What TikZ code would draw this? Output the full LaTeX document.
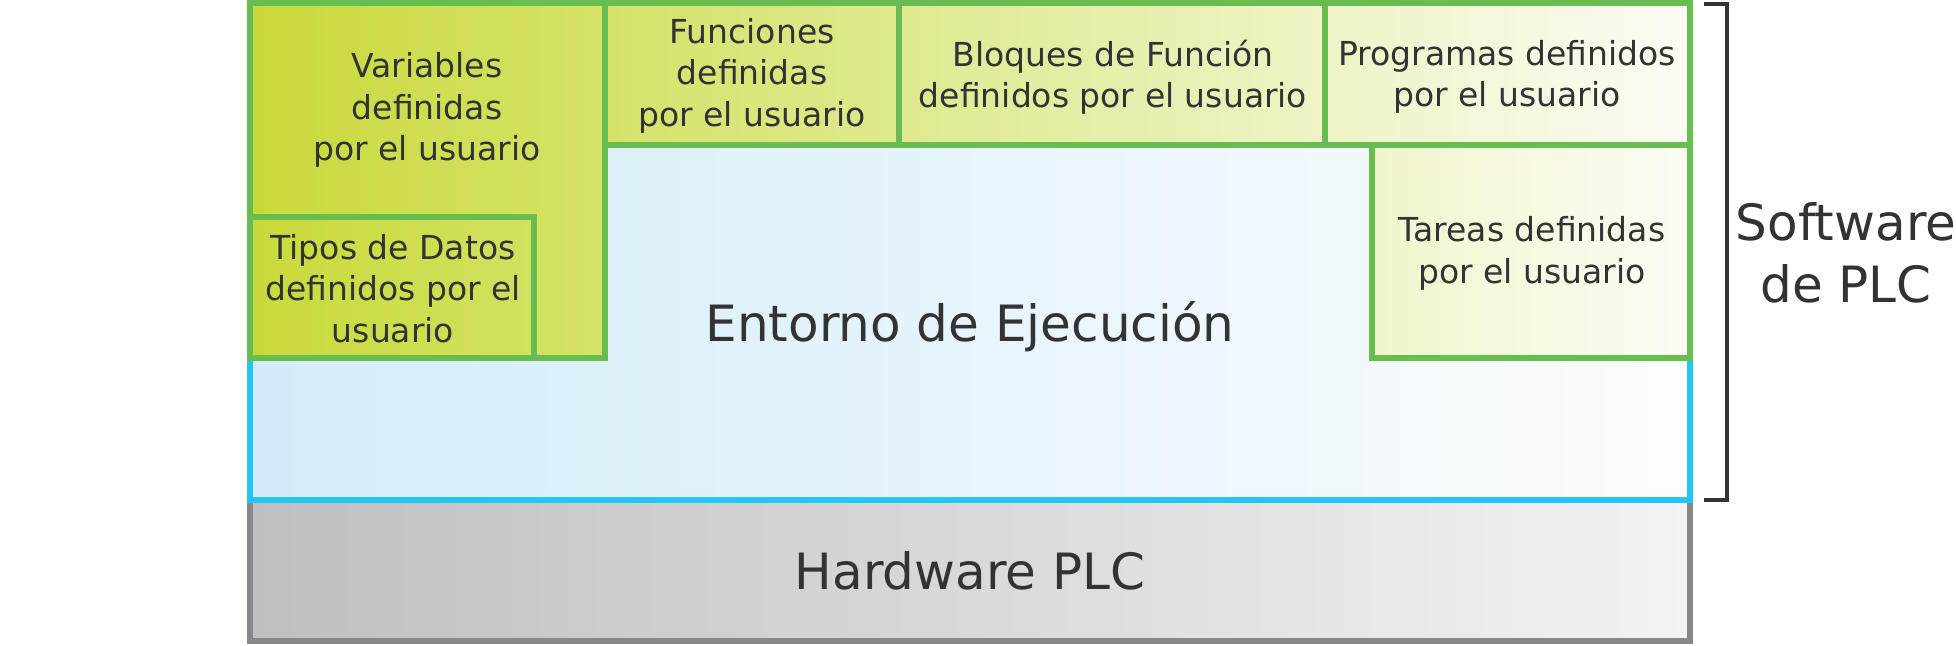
\documentclass[tikz,border=0pt]{standalone}
\usepackage{fontspec}
\setmainfont{DejaVu Sans}
\definecolor{txt}{RGB}{51,51,51}
\definecolor{gline}{RGB}{104,189,80}
\definecolor{bline}{RGB}{38,198,243}
\definecolor{hline}{RGB}{136,136,136}
\definecolor{gA}{RGB}{200,218,58}
\definecolor{gB}{RGB}{213,226,104}
\definecolor{gT}{RGB}{210,225,95}
\definecolor{gC}{RGB}{223,233,142}
\definecolor{gD}{RGB}{239,243,198}
\definecolor{gE}{RGB}{241,245,204}
\definecolor{gF}{RGB}{252,252,245}
\definecolor{bL}{RGB}{210,236,249}
\definecolor{bR}{RGB}{252,253,254}
\definecolor{hL}{RGB}{190,191,194}
\definecolor{hR}{RGB}{243,243,243}
\begin{document}
\begin{tikzpicture}[x=1pt,y=-1pt,
  box/.style={rectangle, draw, line width=5.5pt, inner sep=0pt, outer sep=0pt},
  gbox/.style={box, draw=gline},
  small/.style={font=\fontsize{33}{41.5}\selectfont, text=txt, align=center},
  big/.style={font=\fontsize{50}{62}\selectfont, text=txt, align=center}]
\useasboundingbox (0,0) rectangle (1956,645);
% hardware
\node[box, draw=hline, left color=hL, right color=hR, minimum width=1440pt, minimum height=141pt] (hw) at (970,570.5) {};
\node[big] (hwlbl) at (970,571) {Hardware PLC};
% runtime
\node[box, draw=bline, left color=bL, right color=bR, minimum width=1440pt, minimum height=497pt] (rt) at (970,251.5) {};
\node[big] (rtlbl) at (970,327) {Entorno de Ejecución};
% green boxes
\node[gbox, left color=gA, right color=gB, minimum width=355pt, minimum height=355pt] (var) at (427.5,180.5) {};
\node[small] (varlbl) at (427,110) {Variables\\definidas\\por el usuario};
\node[gbox, left color=gA, right color=gT, minimum width=284pt, minimum height=141pt] (tipos) at (392,287.5) {};
\node[small] (tiposlbl) at (393,288.5) {Tipos de Datos\\definidos por el\\usuario};
\node[gbox, left color=gB, right color=gC, minimum width=294pt, minimum height=142pt] (fun) at (752,74) {};
\node[small] (funlbl) at (752,75.5) {Funciones\\definidas\\por el usuario};
\node[gbox, left color=gC, right color=gD, minimum width=426pt, minimum height=142pt] (fb) at (1112,74) {};
\node[small] (fblbl) at (1113,77) {Bloques de Función\\definidos por el usuario};
\node[gbox, left color=gD, right color=gF, minimum width=365pt, minimum height=142pt] (prog) at (1507.5,74) {};
\node[small] (proglbl) at (1507,77) {Programas definidos\\por el usuario};
\node[gbox, left color=gE, right color=gF, minimum width=318pt, minimum height=213pt] (tar) at (1531,251.5) {};
\node[small] (tarlbl) at (1532,253.5) {Tareas definidas\\por el usuario};
% bracket
\coordinate (bt) at (1704,4);
\coordinate (bb) at (1704,500);
\draw[line width=3.5pt, draw=txt] (bt) -- (bt -| 1727,0) -- (bb -| 1727,0) -- (bb);
\node[big] (sw) at (1846,253) {Software\\de PLC};
\end{tikzpicture}
\end{document}
